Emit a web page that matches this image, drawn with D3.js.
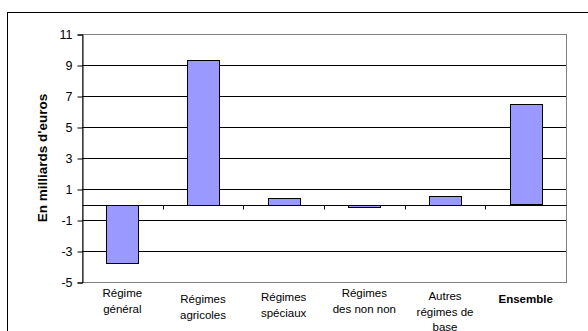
<!DOCTYPE html>
<html>
<head>
<meta charset="utf-8">
<script src="https://cdn.jsdelivr.net/npm/d3@7"></script>
<style>
  html, body { margin: 0; padding: 0; background: #fff; }
  svg { display: block; font-family: "Liberation Sans", Arial, sans-serif; }
</style>
</head>
<body>
<svg id="chart" width="588" height="331"></svg>
<script>
// Solde par régime, en milliards d'euros
const categories = [
  ["Régime", "général"],
  ["Régimes", "agricoles"],
  ["Régimes", "spéciaux"],
  ["Régimes", "des non non"],
  ["Autres", "régimes de", "base"],
  ["Ensemble"]
];
const values = [-3.77, 9.35, 0.44, -0.1, 0.55, 6.48];
const yTicks = [-5, -3, -1, 1, 3, 5, 7, 9, 11];
const yTitle = "En milliards d'euros";

const svg = d3.select("#chart");
const m = { left: 82, top: 34, right: 566, bottom: 282 };

// outer frame
svg.append("rect")
  .attr("x", 7.5).attr("y", 12.5)
  .attr("width", 600).attr("height", 340)
  .attr("fill", "none").attr("stroke", "#000").attr("stroke-width", 1);

const x = d3.scaleBand()
  .domain(d3.range(categories.length))
  .range([m.left, m.right])
  .paddingInner(0.6).paddingOuter(0.3);
const xBand = d3.scaleBand()
  .domain(d3.range(categories.length))
  .range([m.left, m.right]);
const y = d3.scaleLinear().domain([-5, 11]).range([m.bottom, m.top]);

// plot area border
svg.append("rect")
  .attr("x", m.left + 0.5).attr("y", Math.round(y(11)) + 0.5)
  .attr("width", m.right - m.left).attr("height", Math.round(y(-5)) - Math.round(y(11)))
  .attr("fill", "none").attr("stroke", "#808080");

// horizontal gridlines
svg.append("g").selectAll("line")
  .data(yTicks.filter(t => t !== -5 && t !== 11))
  .join("line")
  .attr("x1", m.left).attr("x2", m.right)
  .attr("y1", d => Math.round(y(d)) + 0.5).attr("y2", d => Math.round(y(d)) + 0.5)
  .attr("stroke", "#000");

// y axis (plain hyphen for negatives)
const yAxis = d3.axisLeft(y).tickValues(yTicks).tickSize(5).tickPadding(5)
  .tickFormat(d => String(d));
const gy = svg.append("g")
  .attr("transform", `translate(${m.left + 0.5},0.5)`)
  .call(yAxis);
gy.select(".domain").attr("stroke", "#000");
gy.selectAll(".tick line").attr("stroke", "#000");
gy.selectAll(".tick text")
  .attr("font-size", 12.5).attr("fill", "#000")
  .attr("font-family", "'Liberation Sans', Arial, sans-serif");

// y title
svg.append("text")
  .attr("transform", `translate(47,${(m.top + m.bottom) / 2}) rotate(-90)`)
  .attr("text-anchor", "middle")
  .attr("font-size", 13.5).attr("font-weight", "bold")
  .text(yTitle);

// bars
svg.append("g").selectAll("rect")
  .data(values)
  .join("rect")
  .attr("x", (d, i) => Math.round(x(i)) + 0.5)
  .attr("width", Math.round(x.bandwidth()))
  .attr("y", d => Math.round(y(Math.max(0, d))) + 0.5)
  .attr("height", d => Math.max(1, Math.round(Math.abs(y(d) - y(0)))))
  .attr("fill", "#9999ff")
  .attr("stroke", "#000").attr("stroke-width", 1);

// zero axis with category ticks
const gx = svg.append("g")
  .attr("transform", `translate(0.5,${Math.round(y(0)) + 0.5})`);
gx.append("line")
  .attr("x1", m.left).attr("x2", m.right)
  .attr("stroke", "#000");
gx.selectAll("line.tk")
  .data(d3.range(1, categories.length))
  .join("line").attr("class", "tk")
  .attr("x1", i => Math.round(xBand(i))).attr("x2", i => Math.round(xBand(i)))
  .attr("y1", 0).attr("y2", 4)
  .attr("stroke", "#000");

// category labels
const labelTop = [297, 303, 301, 297, 300, 303];
const g = svg.append("g");
categories.forEach((lines, i) => {
  const t = g.append("text")
    .attr("x", xBand(i) + xBand.bandwidth() / 2)
    .attr("y", labelTop[i])
    .attr("text-anchor", "middle")
    .attr("font-size", 11.5)
    .attr("font-weight", i === categories.length - 1 ? "bold" : "normal");
  lines.forEach((s, k) => {
    t.append("tspan")
      .attr("x", xBand(i) + xBand.bandwidth() / 2)
      .attr("dy", k === 0 ? 0 : 15.5)
      .text(s);
  });
});
</script>
</body>
</html>
